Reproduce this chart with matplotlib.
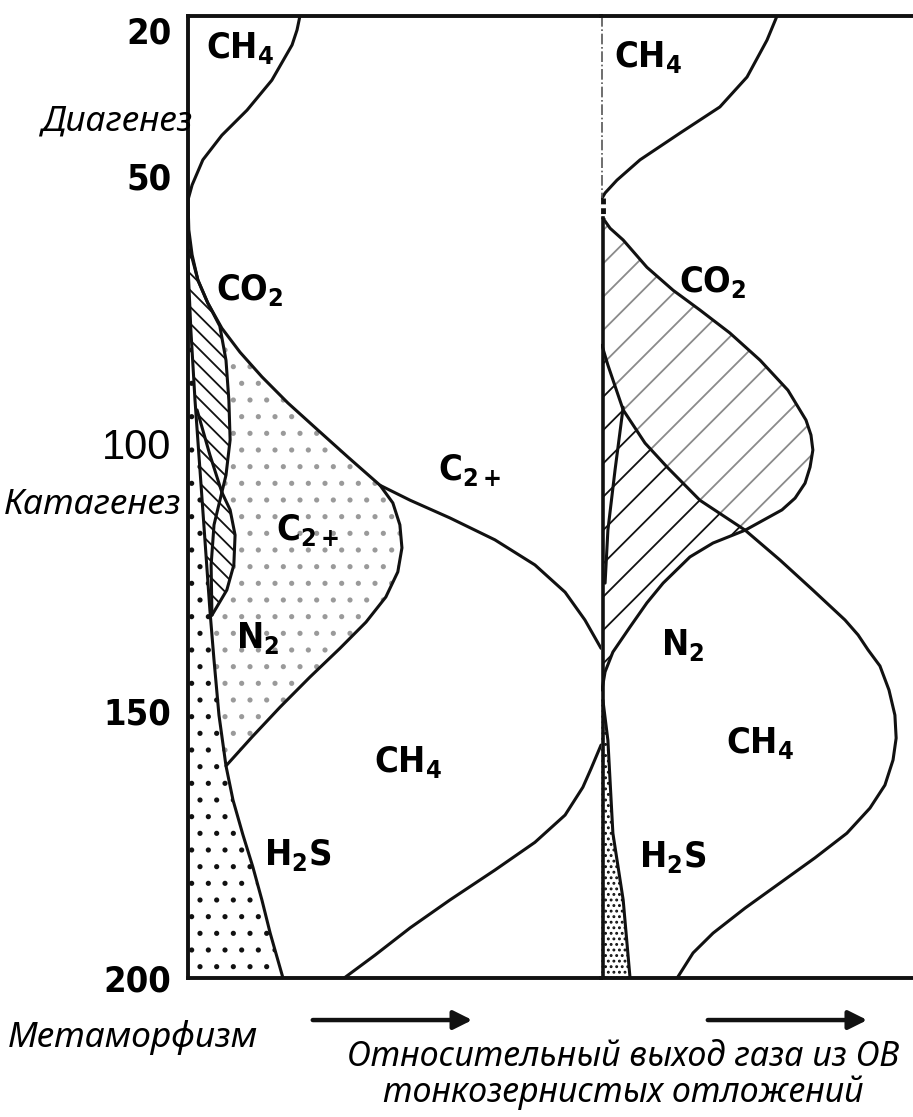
import matplotlib.pyplot as plt
from matplotlib.patches import FancyArrowPatch

plt.rcParams['mathtext.default'] = 'regular'
plt.rcParams['hatch.linewidth'] = 1.3

# depth scale (y) and relative gas yield (x, % of panel width)
# ---------------- left panel ----------------
l_ch4_x = [27.1, 26.4, 25.2, 20.3, 14.3, 8.2, 3.6, 1.0, 0.0]
l_ch4_d = [20, 22.6, 25.4, 32.0, 37.6, 42.3, 46.9, 51.6, 54.4]

l_co2_x = [0, 0.2, 1.0, 2.4, 4.8, 8.2, 12.6, 17.9, 24.2, 31.5, 38.7, 46.5,
           53.8, 63.4, 74.3, 84.0, 91.3, 96.1, 100]
l_co2_d = [54.4, 60.0, 64.7, 69.4, 73.7, 78.4, 82.9, 87.5, 92.4, 97.5, 102.5, 107.8,
           110.6, 113.9, 118.0, 122.7, 127.8, 133.0, 138.3]

l_bump_x = [46.5, 49.6, 51.3, 51.8, 50.8, 47.9, 43.1, 36.8, 29.5, 22.3, 15.5, 9.2]
l_bump_d = [107.8, 111.1, 115.2, 119.5, 124.0, 128.7, 133.4, 138.3, 143.7, 149.3, 154.9, 160.3]

l_h2s_x = [0, 0.7, 1.7, 2.9, 4.1, 5.3, 6.3, 7.5, 9.2, 10.9, 13.3, 15.7, 17.9, 19.9, 23.0]
l_h2s_d = [66.6, 78.8, 91.9, 104.9, 118.0, 131.1, 140.5, 150.8, 160.3, 166.7, 173.2,
           179.2, 185.4, 191.6, 200]

l_n2_x = [0.5, 2.4, 4.8, 7.7, 9.2, 9.9, 10.2, 9.2, 8.2, 10.2, 11.4, 11.1, 9.4, 5.8]
l_n2_d = [63.8, 69.4, 73.7, 78.0, 84.4, 91.9, 99.3, 105.9, 109.1, 112.4, 117.1, 122.7,
          127.4, 132.1]

l_cross_x = [2.2, 5.3, 8.2]
l_cross_d = [93.7, 102.1, 109.1]
l_lens_x = [8.2, 6.3, 5.6, 5.8]
l_lens_d = [109.1, 115.2, 122.7, 132.1]

l_lobe_x = [37.8, 45.3, 53.8, 63.4, 74.3, 84.0, 91.3, 95.6, 97.6, 100]
l_lobe_d = [200, 195.7, 190.6, 185.4, 179.8, 174.6, 169.5, 164.3, 160.8, 156.4]

# ---------------- right panel ----------------
r_ch4_x = [56.4, 53.2, 46.8, 38.1, 25.3, 12.5, 5.1, 1.3, 0.3]
r_ch4_d = [20, 24.5, 31.4, 37.0, 41.9, 46.9, 50.7, 53.1, 54.1]

r_co2_x = [0.6, 2.9, 7.1, 14.7, 23.1, 31.7, 41.3, 51.0, 59.9, 65.7, 67.3, 67.9, 67.0,
           65.4, 62.2, 58.0, 46.2]
r_co2_d = [57.8, 59.7, 61.9, 67.0, 71.3, 75.0, 79.3, 84.4, 90.0, 95.6, 98.4, 101.2, 104.4,
           107.4, 110.2, 112.4, 116.2]

r_n2_x = [46.2, 35.9, 28.5, 19.9, 14.7, 9.3, 3.8, 1.3, 0.3]
r_n2_d = [116.2, 118.6, 121.2, 126.1, 129.8, 134.3, 139.0, 142.7, 146.1]

r_c2_x = [0.3, 2.2, 7.1, 14.1, 21.2, 31.7, 46.2, 57.4, 67.9, 78.2, 82.4, 85.6, 89.4,
          92.3, 94.2, 94.6, 93.6, 91.0, 86.2, 78.8, 68.6, 57.4, 46.2, 35.9, 29.5, 24.4]
r_c2_d = [81.6, 85.3, 93.7, 99.9, 104.4, 110.6, 116.2, 121.8, 127.4, 133.0, 135.8, 138.6,
          141.6, 146.1, 150.8, 155.1, 159.2, 163.9, 168.2, 172.9, 177.5, 182.2, 186.9,
          191.6, 195.3, 200]

r_h2s_x = [0.6, 2.2, 3.8, 7.1, 9.3]
r_h2s_d = [148.0, 155.5, 172.9, 185.4, 200]

r_inner_x = [7.1, 4.5, 2.2, 1.3]
r_inner_d = [93.2, 104.9, 116.2, 126.1]

# ---------------- labels ----------------
l_labels = ['CH$_4$', 'CO$_2$', 'C$_{2+}$', 'C$_{2+}$', 'N$_2$', 'CH$_4$', 'H$_2$S']
l_lab_x = [12.6, 15.0, 68.3, 29.1, 16.9, 53.3, 26.6]
l_lab_d = [26.0, 71.3, 105.0, 116.2, 136.4, 159.6, 177.0]
r_labels = ['CH$_4$', 'CO$_2$', 'N$_2$', 'CH$_4$', 'H$_2$S']
r_lab_x = [15.1, 35.9, 26.3, 51.0, 23.1]
r_lab_d = [27.7, 69.8, 137.7, 156.0, 177.4]

depth_ticks = [20, 50, 100, 150, 200]

INK = '#111111'
LW = 2.2
lab_font = dict(family=['Liberation Sans Narrow', 'DejaVu Sans'], weight='bold',
                stretch='condensed', size=26)
stage_font = dict(family=['Noto Sans', 'DejaVu Sans'], style='italic', size=25.5)
cap_font = dict(family=['Noto Sans', 'DejaVu Sans'], style='italic', size=24.5)

fig = plt.figure(figsize=(9.13, 11.17), dpi=100)
axl = fig.add_axes([0.2059, 0.1244, 0.4524, 0.8612])
axr = fig.add_axes([0.6583, 0.1244, 0.3417, 0.8612], sharey=axl)

for ax in (axl, axr):
    ax.set_xlim(0, 100)
    ax.set_ylim(200, 20)
    ax.set_xticks([])
    ax.spines['right'].set_visible(False)
    for s in ('top', 'bottom', 'left'):
        ax.spines[s].set_linewidth(2.8)
        ax.spines[s].set_color(INK)
axr.spines['left'].set_visible(False)
axr.tick_params(left=False, labelleft=False)

# ----- left panel fills -----
# dotted H2S strip along the frame
axl.fill([0] + l_h2s_x + [0], [l_h2s_d[0]] + l_h2s_d + [200],
         facecolor='none', edgecolor=INK, hatch='.', lw=0)
# hatched N2 strip
axl.fill(l_h2s_x[:6] + l_n2_x[::-1], l_h2s_d[:6] + l_n2_d[::-1],
         facecolor='none', edgecolor=INK, hatch='\\\\', lw=0)
# sparse dotted C2+ region
c2_x = l_co2_x[4:12] + l_bump_x[1:] + l_h2s_x[7:4:-1] + l_n2_x[::-1][:-2]
c2_d = l_co2_d[4:12] + l_bump_d[1:] + l_h2s_d[7:4:-1] + l_n2_d[::-1][:-2]
axl.fill(c2_x, c2_d, facecolor='none', edgecolor='#9a9a9a', hatch='.', lw=0)

for xs, ds in [(l_ch4_x, l_ch4_d), (l_co2_x, l_co2_d), (l_bump_x, l_bump_d),
               (l_h2s_x, l_h2s_d), (l_n2_x, l_n2_d), (l_cross_x, l_cross_d),
               (l_lens_x, l_lens_d), (l_lobe_x, l_lobe_d)]:
    axl.plot(xs, ds, color=INK, lw=LW, solid_joinstyle='round', solid_capstyle='round')

# ----- right panel fills -----
axr.fill(r_co2_x + r_c2_x[5::-1], r_co2_d + r_c2_d[5::-1],
         facecolor='none', edgecolor='#8a8a8a', hatch='/', lw=0)
axr.fill(r_c2_x[:7] + r_n2_x[1:], r_c2_d[:7] + r_n2_d[1:],
         facecolor='none', edgecolor=INK, hatch='/', lw=0)
axr.fill([0] + r_h2s_x + [0], [r_h2s_d[0]] + r_h2s_d + [200],
         facecolor='none', edgecolor=INK, hatch='...', lw=0)

for xs, ds in [(r_ch4_x, r_ch4_d), (r_co2_x, r_co2_d), (r_n2_x, r_n2_d),
               (r_c2_x, r_c2_d), (r_h2s_x, r_h2s_d), (r_inner_x, r_inner_d)]:
    axr.plot(xs, ds, color=INK, lw=LW, solid_joinstyle='round', solid_capstyle='round')

# divider between the two panels
axr.plot([0.3, 0.3], [20, r_ch4_d[-1]], color='#555555', lw=1.2, ls='-.')
axr.plot([0.5, 0.5], [r_ch4_d[-1], r_co2_d[0]], color=INK, lw=3.5, ls=(0, (1.2, 0.8)))
axr.plot([0.5, 0.5], [r_co2_d[0], 200], color=INK, lw=2.6)

# region labels
for t, x, d in zip(l_labels, l_lab_x, l_lab_d):
    axl.text(x, d, t, ha='center', va='center', **lab_font)
for t, x, d in zip(r_labels, r_lab_x, r_lab_d):
    axr.text(x, d, t, ha='center', va='center', **lab_font)

# depth axis
axl.set_yticks(depth_ticks)
axl.set_yticklabels([str(v) for v in depth_ticks])
axl.tick_params(axis='y', length=0, pad=12)
for lab in axl.get_yticklabels():
    if lab.get_text() == '100':
        lab.set_fontfamily(['Liberation Sans', 'DejaVu Sans'])
        lab.set_fontsize(30)
        lab.set_fontweight('normal')
    else:
        lab.set_fontfamily(['Liberation Sans Narrow', 'DejaVu Sans'])
        lab.set_fontstretch('condensed')
        lab.set_fontsize(26)
        lab.set_fontweight('bold')
axl.get_yticklabels()[0].set_va('top')

# stage names
axl.text(1.0, 39.8, 'Диагенез', ha='right', va='center', clip_on=False, **stage_font)
axl.text(-1.5, 111.5, 'Катагенез', ha='right', va='center', clip_on=False, **stage_font)
fig.text(0.2826, 0.0716, 'Метаморфизм', ha='right', va='center', **stage_font)

# arrows and x caption
for x0, x1 in [(0.3395, 0.5203), (0.7722, 0.9529)]:
    fig.add_artist(FancyArrowPatch((x0, 0.0868), (x1, 0.0868), transform=fig.transFigure,
                                   arrowstyle='-|>', mutation_scale=28, lw=3.2, color=INK))
fig.text(0.6824, 0.0537, 'Относительный выход газа из ОВ', ha='center', va='center', **cap_font)
fig.text(0.6824, 0.0215, 'тонкозернистых отложений', ha='center', va='center', **cap_font)

fig.savefig('out.png', dpi=100, facecolor='white')
